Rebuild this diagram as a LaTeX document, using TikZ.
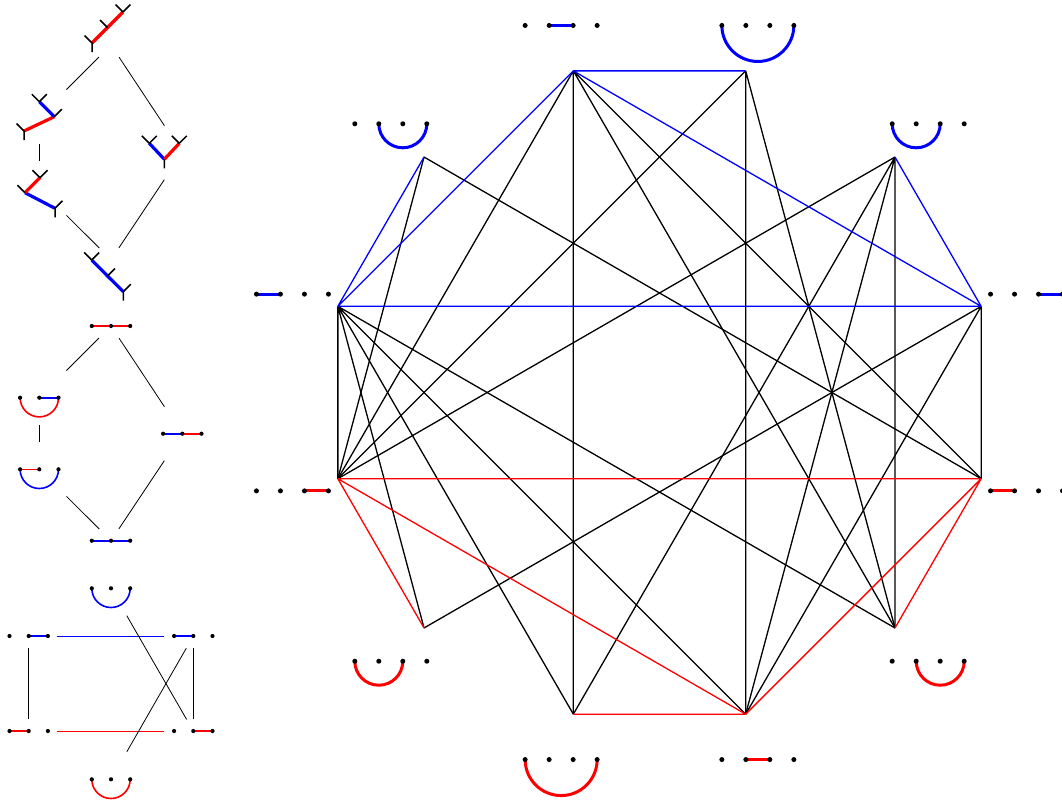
\documentclass[tikz,border=0pt]{standalone}
\usetikzlibrary{calc}

% a row of dots: name, centre, number of dots, gap
\newcommand{\dotrow}[4]{%
  \foreach \k in {1,...,#3}
    \coordinate (#1-\k) at ($(#2)+({(\k-(#3+1)/2)*#4},0)$);%
}
% the dots, drawn last so the arcs end under them
\newcommand{\putdots}[3]{%
  \foreach \k in {1,...,#2}
    \fill (#1-\k) circle[radius=#3];%
}

\begin{document}
\begin{tikzpicture}[
    x=1pt, y=-1pt,
    edge/.style={line width=1.3pt},
    link/.style={line width=0.8pt},
    lbl/.style={line width=3pt},
    small lbl/.style={line width=1.6pt},
    leaf/.style={line width=1.5pt},
    twig/.style={line width=3.2pt}
  ]
  \useasboundingbox (0,0) rectangle (1062,804);

  % trees
  \coordinate (t1) at (111,45);
  \coordinate (t2) at (39.3,116.7);
  \coordinate (t3) at (39.3,188.3);
  \coordinate (t4) at (182.3,152.7);
  \coordinate (t5) at (111,259.7);

  \coordinate (t1a) at (92,43);
  \coordinate (t1b) at (107.5,27.5);
  \coordinate (t1c) at (123,12);
  \draw[twig,red] (t1a) -- (t1b) -- (t1c);
  \draw[leaf] (t1a) -- ++(0,9) (t1a) -- ++(-7.5,-7.5) (t1b) -- ++(-7.5,-7.5)
    (t1c) -- ++(-7.5,-7.5) (t1c) -- ++(7.5,-7.5);

  \coordinate (t2a) at (24,131);
  \coordinate (t2b) at (54.3,116.7);
  \coordinate (t2c) at (39.3,101.7);
  \draw[twig,red] (t2a) -- (t2b);
  \draw[twig,blue] (t2b) -- (t2c);
  \draw[leaf] (t2a) -- ++(0,9) (t2a) -- ++(-7.5,-7.5) (t2b) -- ++(7.5,-7.5)
    (t2c) -- ++(-7.5,-7.5) (t2c) -- ++(7.5,-7.5);

  \coordinate (t3a) at (55,208.3);
  \coordinate (t3b) at (25,192.7);
  \coordinate (t3c) at (40,177.7);
  \draw[twig,blue] (t3a) -- (t3b);
  \draw[twig,red] (t3b) -- (t3c);
  \draw[leaf] (t3a) -- ++(0,9) (t3a) -- ++(7.5,-7.5) (t3b) -- ++(-7.5,-7.5)
    (t3c) -- ++(-7.5,-7.5) (t3c) -- ++(7.5,-7.5);

  \coordinate (t4a) at (164.3,159.3);
  \coordinate (t4b) at (149.3,143.3);
  \coordinate (t4c) at (179.3,143.3);
  \draw[twig,blue] (t4a) -- (t4b);
  \draw[twig,red] (t4a) -- (t4c);
  \draw[leaf] (t4a) -- ++(0,9) (t4b) -- ++(-7.5,-7.5) (t4b) -- ++(7.5,-7.5)
    (t4c) -- ++(-7.5,-7.5) (t4c) -- ++(7.5,-7.5);

  \coordinate (t5a) at (123.3,291.7);
  \coordinate (t5b) at (107.5,276);
  \coordinate (t5c) at (91.7,260);
  \draw[twig,blue] (t5a) -- (t5b) -- (t5c);
  \draw[leaf] (t5a) -- ++(0,9) (t5a) -- ++(7.5,-7.5) (t5b) -- ++(7.5,-7.5)
    (t5c) -- ++(-7.5,-7.5) (t5c) -- ++(7.5,-7.5);

  \draw[link, shorten <=17pt, shorten >=38.3pt] (t1) -- (t2);
  \draw[link, shorten <=14.7pt, shorten >=32.4pt] (t1) -- (t4);
  \draw[link, shorten <=27.3pt, shorten >=27pt] (t2) -- (t3);
  \draw[link, shorten <=38.3pt, shorten >=16.5pt] (t3) -- (t5);
  \draw[link, shorten <=32.4pt, shorten >=14.2pt] (t4) -- (t5);

  % pairs of arcs on three points
  \coordinate (m1) at (111,326);
  \coordinate (m2) at (39.3,397.7);
  \coordinate (m3) at (39.3,469.3);
  \coordinate (m4) at (182.3,433.7);
  \coordinate (m5) at (111,540.7);
  \foreach \m in {m1,m2,m3,m4,m5}{\dotrow{\m}{\m}{3}{19.2}}
  \draw[small lbl,red] (m1-1) -- (m1-2) -- (m1-3);
  \draw[small lbl,blue] (m2-2) -- (m2-3);
  \draw[small lbl,red] (m2-1) arc[start angle=180, end angle=0, radius=19.2];
  \draw[small lbl,red] (m3-1) -- (m3-2);
  \draw[small lbl,blue] (m3-1) arc[start angle=180, end angle=0, radius=19.2];
  \draw[small lbl,blue] (m4-1) -- (m4-2);
  \draw[small lbl,red] (m4-2) -- (m4-3);
  \draw[small lbl,blue] (m5-1) -- (m5-2) -- (m5-3);
  \foreach \m in {m1,m2,m3,m4,m5}{\putdots{\m}{3}{2.1}}

  \draw[link, shorten <=17pt, shorten >=38.3pt] (m1) -- (m2);
  \draw[link, shorten <=14.7pt, shorten >=32.4pt] (m1) -- (m4);
  \draw[link, shorten <=27.3pt, shorten >=27pt] (m2) -- (m3);
  \draw[link, shorten <=38.3pt, shorten >=16.5pt] (m3) -- (m5);
  \draw[link, shorten <=32.4pt, shorten >=14.2pt] (m4) -- (m5);

  % single arcs on three points
  \coordinate (s1) at (111,588.3);
  \coordinate (s2) at (28.7,636);
  \coordinate (s3) at (193.3,636);
  \coordinate (s4) at (28.7,731);
  \coordinate (s5) at (193.3,731);
  \coordinate (s6) at (111,779.3);
  \foreach \s in {s1,s2,s3,s4,s5,s6}{\dotrow{\s}{\s}{3}{19.2}}
  \draw[small lbl,blue] (s1-1) arc[start angle=180, end angle=0, radius=19.2];
  \draw[small lbl,blue] (s2-2) -- (s2-3);
  \draw[small lbl,blue] (s3-1) -- (s3-2);
  \draw[small lbl,red] (s4-1) -- (s4-2);
  \draw[small lbl,red] (s5-2) -- (s5-3);
  \draw[small lbl,red] (s6-1) arc[start angle=180, end angle=0, radius=19.2];
  \foreach \s in {s1,s2,s3,s4,s5,s6}{\putdots{\s}{3}{2.1}}

  \draw[link, blue, line width=1pt, shorten <=28.6pt, shorten >=29pt] (s2) -- (s3);
  \draw[link, red, line width=1pt, shorten <=28.6pt, shorten >=29pt] (s4) -- (s5);
  \draw[link, shorten <=12.3pt, shorten >=11.7pt] (s2) -- (s4);
  \draw[link, shorten <=12.3pt, shorten >=11.7pt] (s3) -- (s5);
  \draw[link, shorten <=31.6pt, shorten >=13.4pt] (s1) -- (s5);
  \draw[link, shorten <=14pt, shorten >=31.8pt] (s3) -- (s6);

  % single arcs on four points
  \coordinate (O) at (659.5,392.5);
  \foreach \v/\a in {b34/15,b13/45,b14/75,b23/105,b24/135,b12/165,
                     r34/195,r13/225,r14/255,r23/285,r24/315,r12/345}
    \coordinate (\v) at ($(O)+(-\a:333)$);

  \draw[edge] (b23) -- (r12) (b23) -- (r24) (b23) -- (r14) (b23) -- (r34);
  \draw[edge] (b14) -- (r24) (b14) -- (r23) (b14) -- (r34);
  \draw[edge] (b13) -- (r24) (b13) -- (r23) (b13) -- (r14) (b13) -- (r34);
  \draw[edge] (b34) -- (r12) (b34) -- (r23) (b34) -- (r13);
  \draw[edge] (b12) -- (r24) (b12) -- (r23) (b12) -- (r14) (b12) -- (r13) (b12) -- (r34);
  \draw[edge] (b24) -- (r12) (b24) -- (r34);

  \draw[edge,blue] (b23) -- (b14) (b23) -- (b12) (b23) -- (b34)
    (b12) -- (b24) (b12) -- (b34) (b13) -- (b34);
  \draw[edge,red] (r34) -- (r12) (r34) -- (r13) (r34) -- (r23)
    (r14) -- (r23) (r23) -- (r12) (r12) -- (r24);

  \foreach \v/\a/\col/\pa/\pb in {b34/15/blue/3/4, b13/45/blue/1/3, b14/75/blue/1/4,
      b23/105/blue/2/3, b24/135/blue/2/4, b12/165/blue/1/2,
      r34/195/red/3/4, r13/225/red/1/3, r14/255/red/1/4,
      r23/285/red/2/3, r24/315/red/2/4, r12/345/red/1/2}{
    \coordinate (l\v) at ($(O)+(-\a:380)$);
    \dotrow{l\v}{l\v}{4}{24}
    \pgfmathtruncatemacro\arcspan{\pb-\pa}
    \ifnum\arcspan=1
      \draw[lbl,color=\col] (l\v-\pa) -- (l\v-\pb);
    \else
      \draw[lbl,color=\col] (l\v-\pa) arc[start angle=180, end angle=0, radius=12*\arcspan];
    \fi
    \putdots{l\v}{4}{2.5}
  }
\end{tikzpicture}
\end{document}
